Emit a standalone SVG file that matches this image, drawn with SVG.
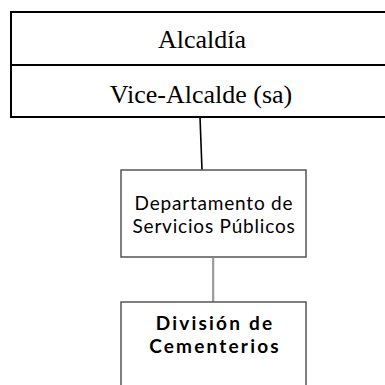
<svg xmlns="http://www.w3.org/2000/svg" width="385" height="385" viewBox="0 0 385 385">
<style>
.serif{font-family:"Liberation Serif","Times New Roman",serif;font-size:26px;fill:#000;text-anchor:middle}
.sans{font-family:Lato,"Open Sans",sans-serif;font-size:19px;fill:#000;text-anchor:middle;letter-spacing:0.8px}
.bold{font-weight:bold;letter-spacing:2.2px}
.box{fill:#fff;stroke:#555;stroke-width:1.5}
.top{fill:none;stroke:#000;stroke-width:2}
</style>
<rect width="385" height="385" fill="#fff"/>
<g id="connectors">
<line x1="200" y1="117" x2="202" y2="170" stroke="#000" stroke-width="1.6"/>
<line x1="214" y1="258" x2="214" y2="302" stroke="#e0e0e0" stroke-width="1.5"/>
<line x1="213" y1="258" x2="213" y2="302" stroke="#808080" stroke-width="1.5"/>
</g>
<g id="alcaldia">
<path class="top" d="M386 12 H11 V65 H386"/>
<text class="serif" x="202" y="48">Alcaldía</text>
</g>
<g id="vice-alcalde">
<path class="top" d="M386 65 H11 V117 H386"/>
<text class="serif" x="201" y="103">Vice-Alcalde (sa)</text>
</g>
<g id="departamento">
<rect class="box" x="121" y="170" width="185" height="87"/>
<text class="sans"><tspan x="214" y="210">Departamento de</tspan><tspan x="214" y="233">Servicios Públicos</tspan></text>
</g>
<g id="division">
<rect class="box" x="121" y="302" width="185" height="100"/>
<text class="sans bold"><tspan x="215" y="330">División de</tspan><tspan x="215" y="353">Cementerios</tspan></text>
</g>
</svg>
